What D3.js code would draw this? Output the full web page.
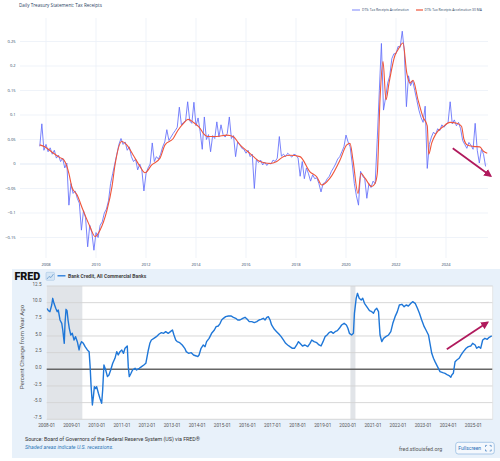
<!DOCTYPE html>
<html><head><meta charset="utf-8">
<script src="https://cdn.jsdelivr.net/npm/d3@7"></script>
<style>html,body{margin:0;padding:0;background:#fff;}svg{display:block;}</style>
</head><body>
<svg id="c" width="500" height="461"></svg>
<script>
// ---------- DATA: Daily Treasury Statement (top chart) ----------
const dtsTitle = "Daily Treasury Statement: Tax Receipts";
const dtsSeriesNames = ["DTS: Tax Receipts Acceleration", "DTS: Tax Receipts Acceleration 30 MA"];
const dtsStart = 2007.75; // Oct 2007, monthly samples
const dtsAccel = [
  0.036, 0.082, 0.028,
  0.040, 0.025, 0.033, 0.020, 0.028, 0.012, 0.018, 0.005, 0.012, -0.008, 0.002, -0.084,
  -0.040, -0.060, -0.055, -0.070, -0.080, -0.135, -0.095, -0.110, -0.169, -0.125, -0.140, -0.176,
  -0.140, -0.150, -0.125, -0.118, -0.100, -0.092, -0.075, -0.040, -0.020, 0.000, 0.020, 0.040,
  0.052, 0.040, 0.045, 0.028, 0.035, 0.015, 0.005, 0.010, -0.012, 0.000, -0.012, -0.055,
  -0.020, -0.008, 0.000, 0.043, 0.005, 0.015, 0.010, 0.020, 0.035, 0.045, 0.070, 0.048,
  0.055, 0.062, 0.068, 0.075, 0.116, 0.080, 0.085, 0.088, 0.127, 0.088, 0.083, 0.126,
  0.078, 0.094, 0.066, 0.030, 0.096, 0.050, 0.060, 0.025, 0.058, 0.052, 0.086, 0.055,
  0.080, 0.060, 0.055, 0.062, 0.096, 0.052, 0.058, 0.015, 0.045, 0.040, 0.032, 0.030,
  0.022, 0.028, 0.015, 0.020, -0.050, 0.010, 0.003, 0.008, -0.002, 0.004, -0.003, 0.002,
  0.000, 0.008, 0.005, 0.012, 0.056, 0.016, 0.020, 0.015, 0.022, 0.018, 0.014, 0.020,
  0.018, 0.012, -0.025, 0.005, -0.030, -0.008, -0.020, -0.035, -0.022, -0.030, -0.028, -0.040,
  -0.057, -0.040, -0.038, -0.030, -0.025, -0.015, -0.008, 0.000, 0.010, 0.015, 0.025, 0.035,
  0.059, 0.045, 0.035, 0.000, -0.040, -0.065, -0.084, -0.015, -0.025, -0.030, -0.070, -0.040,
  -0.048, -0.035, -0.040, 0.050, 0.150, 0.246, 0.110, 0.135, 0.165, 0.180, 0.215, 0.225,
  0.225, 0.240, 0.238, 0.271, 0.230, 0.117, 0.180, 0.160, 0.170, 0.150, 0.130, 0.110,
  0.095, 0.085, 0.118, -0.009, 0.040, 0.055, 0.065, 0.060, 0.072, 0.068, 0.080, 0.075,
  0.080, 0.085, 0.127, 0.082, 0.090, 0.078, 0.085, 0.072, 0.048, 0.040, 0.032, 0.044,
  0.038, 0.030, 0.083, 0.028, 0.002, 0.030, 0.020, -0.005
];
const dtsMA = [
  [2007.75,0.039],[2007.95,0.035],[2008.3,0.022],[2008.56,0.013],[2008.72,0.008],[2008.83,-0.004],[2008.92,-0.02],
  [2009.04,-0.048],[2009.24,-0.063],[2009.48,-0.094],[2009.76,-0.128],[2009.96,-0.148],[2010.16,-0.135],
  [2010.44,-0.094],[2010.64,-0.046],[2010.76,-0.002],[2011.03,0.046],[2011.23,0.039],[2011.49,0.018],
  [2011.76,-0.005],[2011.96,-0.018],[2012.23,-0.002],[2012.56,0.012],[2012.76,0.039],[2013.09,0.052],
  [2013.28,0.069],[2013.5,0.083],[2013.68,0.091],[2013.9,0.085],[2014.16,0.073],[2014.3,0.062],
  [2014.45,0.056],[2014.83,0.056],[2015.23,0.059],[2015.48,0.056],[2015.76,0.039],[2016.08,0.025],
  [2016.3,0.015],[2016.56,0.005],[2016.96,0.001],[2017.23,0.005],[2017.49,0.015],[2017.76,0.018],
  [2018.16,0.015],[2018.56,-0.016],[2018.83,-0.026],[2019.03,-0.043],[2019.36,-0.029],[2019.76,0.008],
  [2020.03,0.039],[2020.16,0.042],[2020.28,0.008],[2020.48,-0.06],[2020.6,-0.019],[2020.76,-0.029],
  [2021.03,-0.046],[2021.16,-0.04],[2021.25,-0.02],[2021.36,0.131],[2021.48,0.209],[2021.6,0.131],
  [2021.72,0.165],[2021.96,0.222],[2022.08,0.233],[2022.28,0.247],[2022.43,0.186],[2022.56,0.165],
  [2022.68,0.171],[2022.88,0.131],[2023.08,0.096],[2023.25,0.078],[2023.31,0.02],[2023.43,0.043],
  [2023.6,0.062],[2023.88,0.076],[2024.16,0.085],[2024.43,0.083],[2024.62,0.077],[2024.72,0.05],
  [2024.85,0.039],[2025.1,0.036],[2025.35,0.035],[2025.5,0.026],[2025.65,0.022]
];
const dtsYTicks = [-0.15, -0.1, -0.05, 0, 0.05, 0.1, 0.15, 0.2, 0.25];
const dtsYTickLabels = ["−0.15", "−0.1", "−0.05", "0", "0.05", "0.1", "0.15", "0.2", "0.25"];
const dtsXTicks = [2008, 2010, 2012, 2014, 2016, 2018, 2020, 2022, 2024];
const dtsArrow = [[2024.27, 0.032], [2025.79, -0.0245]];

// ---------- DATA: FRED Bank Credit (bottom chart) ----------
const fredSeriesName = "Bank Credit, All Commercial Banks";
const fredYTitle = "Percent Change from Year Ago";
const fredYTicks = [-7.5, -5, -2.5, 0, 2.5, 5, 7.5, 10, 12.5];
const fredXTicks = [2008,2009,2010,2011,2012,2013,2014,2015,2016,2017,2018,2019,2020,2021,2022,2023,2024,2025];
const fredRecessions = [[2008.0, 2009.42], [2020.1, 2020.3]];
const fredBankCredit = [
  [2008.0,9.15],[2008.07,8.8],[2008.13,8.65],[2008.2,9.65],[2008.24,10.65],[2008.29,9.9],[2008.36,9.15],
  [2008.42,8.65],[2008.46,8.9],[2008.53,7.4],[2008.6,6.9],[2008.64,5.9],[2008.7,3.9],[2008.73,6.9],
  [2008.77,9.0],[2008.81,8.8],[2008.85,7.4],[2008.9,6.15],[2008.96,5.15],[2009.02,5.4],[2009.09,4.4],
  [2009.15,4.9],[2009.22,4.15],[2009.29,2.9],[2009.33,3.65],[2009.39,4.15],[2009.46,3.9],[2009.53,3.4],
  [2009.62,2.9],[2009.69,2.65],[2009.73,0.4],[2009.77,-2.6],[2009.82,-5.35],[2009.86,-4.1],[2009.9,-2.6],
  [2009.95,-2.9],[2009.99,-2.6],[2010.06,-3.6],[2010.12,-4.35],[2010.19,-5.1],[2010.23,-3.1],[2010.28,0.65],
  [2010.35,-0.1],[2010.42,-1.1],[2010.48,-0.85],[2010.55,-0.1],[2010.63,0.9],[2010.72,1.65],[2010.79,2.65],
  [2010.85,2.15],[2010.92,2.65],[2010.99,2.9],[2011.06,2.4],[2011.12,3.15],[2011.21,3.5],[2011.25,0.4],
  [2011.29,-1.1],[2011.36,-0.6],[2011.42,-0.1],[2011.52,0.15],[2011.58,-0.1],[2011.69,0.15],[2011.78,0.4],
  [2011.87,0.65],[2011.95,0.9],[2012.0,1.9],[2012.05,2.9],[2012.11,3.9],[2012.17,4.4],[2012.27,4.65],
  [2012.37,4.9],[2012.48,5.3],[2012.57,5.5],[2012.66,5.4],[2012.74,5.65],[2012.84,5.4],[2012.93,5.65],
  [2013.01,5.9],[2013.07,5.15],[2013.14,4.4],[2013.2,4.15],[2013.3,4.0],[2013.4,3.65],[2013.5,3.15],
  [2013.56,2.65],[2013.65,2.4],[2013.76,2.5],[2013.85,2.15],[2013.96,2.0],[2014.02,1.9],[2014.07,2.15],
  [2014.15,3.15],[2014.24,3.65],[2014.31,3.4],[2014.37,4.15],[2014.47,4.65],[2014.57,5.4],[2014.68,5.9],
  [2014.75,6.4],[2014.84,6.5],[2014.91,6.9],[2014.97,7.4],[2015.04,7.65],[2015.13,7.9],[2015.24,8.0],
  [2015.34,8.0],[2015.44,7.8],[2015.53,7.65],[2015.61,7.4],[2015.7,7.4],[2015.81,7.65],[2015.9,7.8],
  [2015.99,7.5],[2016.07,7.15],[2016.17,7.15],[2016.27,7.0],[2016.37,7.15],[2016.46,7.4],[2016.54,7.5],
  [2016.63,7.65],[2016.7,7.4],[2016.77,7.8],[2016.83,7.9],[2016.9,7.4],[2016.96,6.65],[2017.07,6.0],
  [2017.16,5.65],[2017.26,5.25],[2017.34,4.9],[2017.43,4.4],[2017.52,3.9],[2017.6,3.65],[2017.69,3.4],
  [2017.79,3.15],[2017.87,3.15],[2017.96,3.65],[2018.03,4.15],[2018.09,3.9],[2018.19,3.5],[2018.29,3.65],
  [2018.4,3.4],[2018.49,3.9],[2018.56,4.4],[2018.65,4.15],[2018.76,4.0],[2018.85,3.65],[2018.93,3.5],
  [2019.01,4.15],[2019.09,4.9],[2019.17,5.15],[2019.25,5.5],[2019.33,5.65],[2019.42,5.4],[2019.49,5.65],
  [2019.58,5.8],[2019.66,6.15],[2019.75,6.65],[2019.85,6.9],[2019.94,6.65],[2020.0,6.15],[2020.06,5.4],
  [2020.15,5.15],[2020.22,5.4],[2020.26,8.4],[2020.33,10.65],[2020.38,11.4],[2020.45,10.65],[2020.53,10.4],
  [2020.59,10.65],[2020.66,9.9],[2020.75,9.4],[2020.86,8.8],[2020.95,8.65],[2021.02,8.4],[2021.08,8.9],
  [2021.15,9.15],[2021.22,8.65],[2021.28,5.15],[2021.35,4.15],[2021.42,4.65],[2021.51,4.9],[2021.62,5.15],
  [2021.71,5.65],[2021.79,6.9],[2021.88,7.9],[2021.97,8.65],[2022.05,9.65],[2022.15,9.75],[2022.24,9.4],
  [2022.32,9.65],[2022.41,9.5],[2022.51,9.9],[2022.58,10.15],[2022.68,9.9],[2022.77,9.15],[2022.85,8.4],
  [2022.94,7.4],[2023.04,6.4],[2023.11,5.9],[2023.21,5.15],[2023.27,3.9],[2023.34,2.4],[2023.41,1.65],
  [2023.47,1.15],[2023.57,0.4],[2023.67,-0.35],[2023.78,-0.5],[2023.87,-0.6],[2023.97,-0.85],[2024.05,-1.0],
  [2024.1,-1.2],[2024.14,-0.85],[2024.2,-0.6],[2024.27,1.15],[2024.34,1.4],[2024.43,1.65],[2024.51,2.15],
  [2024.6,2.65],[2024.71,3.15],[2024.8,3.4],[2024.9,3.5],[2024.97,3.9],[2025.07,3.65],[2025.13,3.15],
  [2025.22,3.4],[2025.29,3.15],[2025.37,4.4],[2025.46,4.65],[2025.55,4.5],[2025.63,4.8],[2025.73,5.0]
];
const fredArrow = [[2023.94, 3.0], [2025.57, 7.05]];
const fredSource = "Source: Board of Governors of the Federal Reserve System (US) via FRED®";
const fredNote = "Shaded areas indicate U.S. recessions.";
const fredSite = "fred.stlouisfed.org";

// ---------- DRAW ----------
const svg = d3.select("#c");
const arrowColor = "#b0195c";
const defs = svg.append("defs");
defs.append("marker").attr("id","ah").attr("viewBox","0 0 10 10").attr("refX",8).attr("refY",5)
  .attr("markerWidth",8).attr("markerHeight",8).attr("markerUnits","userSpaceOnUse").attr("orient","auto")
  .append("path").attr("d","M0,0 L10,5 L0,10 z").attr("fill",arrowColor);
defs.append("clipPath").attr("id","clipTop").append("rect").attr("x",20).attr("y",18).attr("width",468).attr("height",240);
defs.append("clipPath").attr("id","clipFred").append("rect").attr("x",46.7).attr("y",286).attr("width",446).attr("height",134);

svg.append("rect").attr("width",500).attr("height",461).attr("fill","#fff");

// ---- Top chart ----
const xT = d3.scaleLinear().domain([2008, 2024]).range([46, 446]);
const yT = d3.scaleLinear().domain([0, 0.25]).range([164, 41.5]);
const pf = "'Open Sans', sans-serif";
const gT = svg.append("g");
gT.append("text").attr("x",19).attr("y",6.5).attr("font-family",pf).attr("font-size",4.6)
  .attr("fill","#2a3f5f").text(dtsTitle);

gT.selectAll(".vg").data(dtsXTicks).join("line")
  .attr("x1",d=>xT(d)).attr("x2",d=>xT(d)).attr("y1",18).attr("y2",258)
  .attr("stroke","#ebf0f8").attr("stroke-width",0.8);
gT.selectAll(".hg").data(dtsYTicks).join("line")
  .attr("x1",20).attr("x2",488).attr("y1",d=>yT(d)).attr("y2",d=>yT(d))
  .attr("stroke","#ebf0f8").attr("stroke-width",d=>d===0?1.3:0.8);
gT.selectAll(".yl").data(dtsYTicks).join("text")
  .attr("x",15.5).attr("y",d=>yT(d)).attr("dy","0.35em").attr("text-anchor","end")
  .attr("font-family",pf).attr("font-size",4).attr("fill","#2a3f5f")
  .text((d,i)=>dtsYTickLabels[i]);
gT.selectAll(".xl").data(dtsXTicks).join("text")
  .attr("x",d=>xT(d)).attr("y",265.5).attr("text-anchor","middle")
  .attr("font-family",pf).attr("font-size",4).attr("fill","#2a3f5f").text(d=>d);

const lineT = d3.line().x(d=>xT(d[0])).y(d=>yT(d[1]));
const accelPts = dtsAccel.map((v,i)=>[dtsStart + i/12, v]);
const plotT = gT.append("g").attr("clip-path","url(#clipTop)");
plotT.append("path").datum(accelPts).attr("d",lineT).attr("fill","none")
  .attr("stroke","#636efa").attr("stroke-width",1.0).attr("stroke-opacity",0.85).attr("stroke-linejoin","round");
plotT.append("path").datum(dtsMA).attr("d",lineT.curve(d3.curveMonotoneX)).attr("fill","none")
  .attr("stroke","#ef553b").attr("stroke-width",1.1).attr("stroke-linejoin","round");

// legend
const legT = gT.append("g");
legT.append("line").attr("x1",352).attr("x2",360).attr("y1",10).attr("y2",10).attr("stroke","#636efa").attr("stroke-width",1.2).attr("stroke-opacity",0.7);
legT.append("text").attr("x",362).attr("y",11.2).attr("font-family",pf).attr("font-size",3.3).attr("fill","#2a3f5f").text(dtsSeriesNames[0]);
legT.append("line").attr("x1",416).attr("x2",423).attr("y1",10).attr("y2",10).attr("stroke","#ef553b").attr("stroke-width",1.2);
legT.append("text").attr("x",424.5).attr("y",11.2).attr("font-family",pf).attr("font-size",3.3).attr("fill","#2a3f5f").text(dtsSeriesNames[1]);

gT.append("line").attr("x1",xT(dtsArrow[0][0])).attr("y1",yT(dtsArrow[0][1]))
  .attr("x2",xT(dtsArrow[1][0])).attr("y2",yT(dtsArrow[1][1]))
  .attr("stroke",arrowColor).attr("stroke-width",1.8).attr("marker-end","url(#ah)");

// ---- FRED panel ----
const rf = "Roboto, 'Open Sans', sans-serif";
const gF = svg.append("g");
gF.append("rect").attr("x",12).attr("y",269).attr("width",488).attr("height",189).attr("fill","#e8f1fa");
const xF = d3.scaleLinear().domain([2008, 2025]).range([46.7, 473.4]);
const yF = d3.scaleLinear().domain([0, 12.5]).range([369.3, 286]);
gF.append("rect").attr("x",46.7).attr("y",286).attr("width",446).attr("height",yF(-7.5)-286).attr("fill","#fff");

gF.selectAll(".rec").data(fredRecessions).join("rect")
  .attr("x",d=>xF(d[0])).attr("width",d=>xF(d[1])-xF(d[0]))
  .attr("y",286).attr("height",yF(-7.5)-286).attr("fill","#e1e4e8");

gF.selectAll(".fg").data(fredYTicks).join("line")
  .attr("x1",46.7).attr("x2",492.7).attr("y1",d=>yF(d)).attr("y2",d=>yF(d))
  .attr("stroke",d=>d===0?"#666":"#d3d3d3").attr("stroke-width",d=>d===0?1.4:0.9);
gF.append("line").attr("x1",492.7).attr("x2",492.7).attr("y1",286).attr("y2",yF(-7.5)).attr("stroke","#e0e0e0").attr("stroke-width",0.8);

gF.selectAll(".fyl").data(fredYTicks).join("text")
  .attr("x",41.5).attr("y",d=>yF(d)-0.3).attr("text-anchor","end")
  .attr("font-family",rf).attr("font-size",4.6).attr("fill","#555")
  .text(d=>d.toFixed(1));
gF.selectAll(".fxl").data(fredXTicks).join("text")
  .attr("x",d=>xF(d)).attr("y",427.2).attr("text-anchor","middle")
  .attr("font-family",rf).attr("font-size",4.7).attr("fill","#555")
  .text(d=>d+"-01");
gF.append("text").attr("transform","translate(23.5,347) rotate(-90)").attr("text-anchor","middle")
  .attr("font-family",rf).attr("font-size",6.2).attr("fill","#555").text(fredYTitle);

const lineF = d3.line().x(d=>xF(d[0])).y(d=>yF(d[1]));
gF.append("g").attr("clip-path","url(#clipFred)").append("path").datum(fredBankCredit)
  .attr("d",lineF).attr("fill","none").attr("stroke","#1f77d8").attr("stroke-width",1.4).attr("stroke-linejoin","round");

gF.append("line").attr("x1",xF(fredArrow[0][0])).attr("y1",yF(fredArrow[0][1]))
  .attr("x2",xF(fredArrow[1][0])).attr("y2",yF(fredArrow[1][1]))
  .attr("stroke",arrowColor).attr("stroke-width",1.8).attr("marker-end","url(#ah)");

// header: logo, icon, legend
gF.append("text").attr("x",14.5).attr("y",279.6).attr("font-family",rf).attr("font-weight",900)
  .attr("font-size",10.8).attr("fill","#111").attr("letter-spacing",-0.1).text("FRED");
const ic = gF.append("g");
ic.append("rect").attr("x",46).attr("y",272.3).attr("width",8.5).attr("height",8).attr("rx",1).attr("fill","#d6e6f5").attr("stroke","#9dbfe0").attr("stroke-width",0.5);
ic.append("polyline").attr("points","47,279 49,276.5 51,277.5 53.5,274").attr("fill","none").attr("stroke","#5b93c9").attr("stroke-width",0.7);
gF.append("line").attr("x1",57.5).attr("x2",65.5).attr("y1",275.8).attr("y2",275.8).attr("stroke","#1f77d8").attr("stroke-width",1.3);
gF.append("text").attr("x",68).attr("y",277.7).attr("font-family",rf).attr("font-weight",700)
  .attr("font-size",5).attr("fill","#444").text(fredSeriesName);

// footer
gF.append("text").attr("x",25).attr("y",440.8).attr("font-family",rf).attr("font-size",5.3).attr("fill","#333").text(fredSource);
gF.append("text").attr("x",25).attr("y",449.3).attr("font-family",rf).attr("font-style","italic").attr("font-size",5.3).attr("fill","#2e78b8").text(fredNote);
gF.append("text").attr("x",399).attr("y",451).attr("font-family",rf).attr("font-size",5.3).attr("fill","#555").text(fredSite);
const fb = gF.append("g");
fb.append("rect").attr("x",455.7).attr("y",442.3).attr("width",38.6).attr("height",11.7).attr("rx",2.5)
  .attr("fill","#f4f8fd").attr("stroke","#8db6de").attr("stroke-width",0.7);
fb.append("text").attr("x",458.3).attr("y",450.2).attr("font-family",rf).attr("font-size",5).attr("fill","#2a6fb8").text("Fullscreen");
fb.append("path").attr("d","M485.5,447 v-1.6 h1.6 M489.6,445.4 h1.6 v1.6 M491.2,449.4 v1.6 h-1.6 M487.1,451 h-1.6 v-1.6")
  .attr("fill","none").attr("stroke","#2a6fb8").attr("stroke-width",0.6);
</script>
</body></html>
